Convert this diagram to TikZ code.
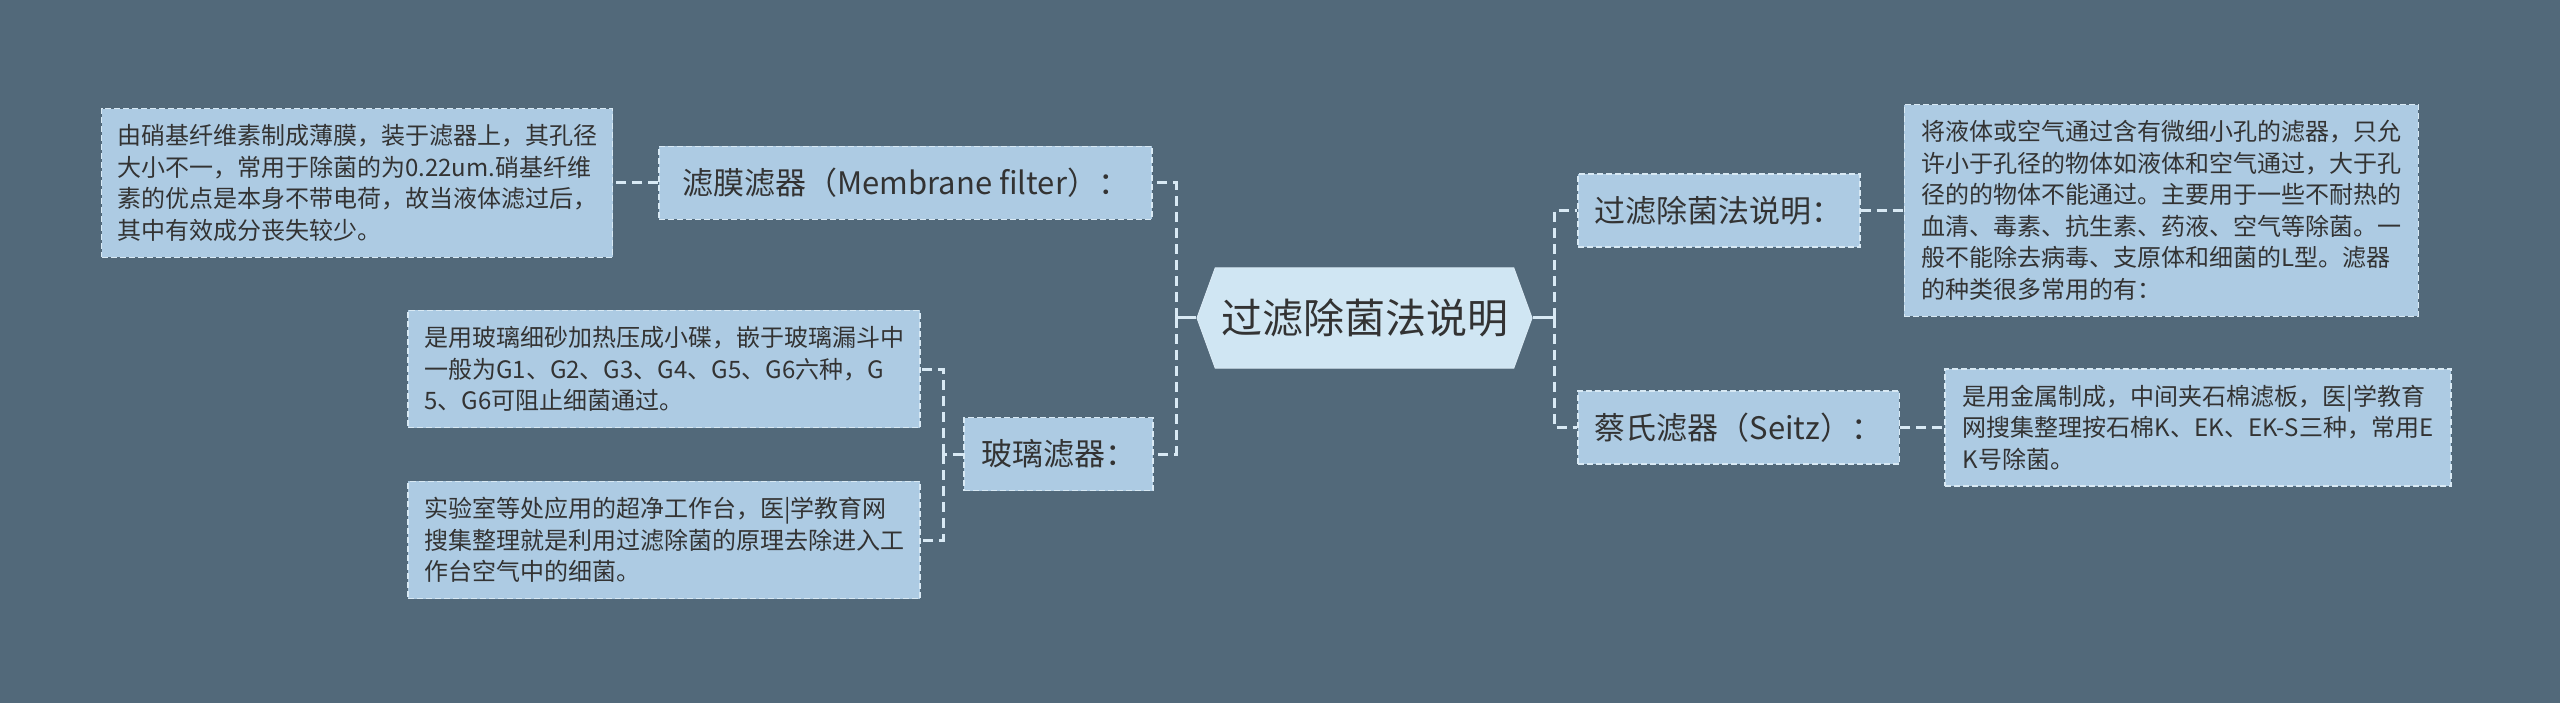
\documentclass[tikz,border=0pt]{standalone}
\usepackage{fontspec}
\setmainfont{Noto Sans CJK SC}
\usepackage{xcolor}
\usepackage{tikz}
\usetikzlibrary{positioning,shapes.symbols}
\definecolor{mapbg}{HTML}{52697A}
\definecolor{mapink}{HTML}{333333}
\definecolor{mapline}{HTML}{D8E9F4}
\definecolor{mapleaf}{HTML}{ADCBE3}
\definecolor{maproot}{HTML}{D0E6F3}

\begin{document}
\begin{tikzpicture}[
  x=1pt,y=-1pt,
  root/.style={shape=signal,signal to=east and west,signal pointer angle=140,
               fill=maproot,draw=mapline,line width=1pt,text=mapink,
               minimum width=335pt,minimum height=100pt,inner sep=0pt,
               font=\fontsize{41}{48}\selectfont},
  topic/.style={fill=mapleaf,draw=mapline,line width=1.6pt,dash pattern=on 6pt off 3pt,
                text=mapink,inner xsep=17pt,minimum height=73pt,
                font=\fontsize{31}{36}\selectfont},
  leaf/.style={fill=mapleaf,draw=mapline,line width=1.6pt,dash pattern=on 6pt off 3pt,
               text=mapink,align=left,inner xsep=13pt,inner ysep=16pt,
               font=\fontsize{24}{31.5}\selectfont},
  link/.style={mapline,line width=3pt},
  dlink/.style={mapline,line width=3pt,dash pattern=on 10pt off 6pt}
]
\fill[mapbg] (0,0) rectangle (2560,703);
\useasboundingbox (0,0) rectangle (2560,703);

% root
\node[root] (main) at (1364.5,318) {过滤除菌法说明};

% left branches
\node[topic,anchor=east,minimum width=493pt] (membrane) at (1153,183)
  {滤膜滤器（Membrane filter）：};
\node[leaf,left=45pt of membrane,minimum width=511pt] (membranetxt)
  {由硝基纤维素制成薄膜，装于滤器上，其孔径\\
   大小不一，常用于除菌的为0.22um.硝基纤维\\
   素的优点是本身不带电荷，故当液体滤过后，\\
   其中有效成分丧失较少。};
\node[topic,anchor=east] (glass) at (1154,454) {玻璃滤器：};
\node[leaf,anchor=east,minimum width=512pt] (glassa) at (921,369)
  {是用玻璃细砂加热压成小碟，嵌于玻璃漏斗中\\
   一般为G1、G2、G3、G4、G5、G6六种，G\\
   5、G6可阻止细菌通过。};
\node[leaf,anchor=east,minimum width=512pt] (glassb) at (921,540)
  {实验室等处应用的超净工作台，医|学教育网\\
   搜集整理就是利用过滤除菌的原理去除进入工\\
   作台空气中的细菌。};

% right branches
\node[topic,anchor=west] (method) at (1577,210.5) {过滤除菌法说明：};
\node[leaf,right=43pt of method,minimum width=514pt] (methodtxt)
  {将液体或空气通过含有微细小孔的滤器，只允\\
   许小于孔径的物体如液体和空气通过，大于孔\\
   径的的物体不能通过。主要用于一些不耐热的\\
   血清、毒素、抗生素、药液、空气等除菌。一\\
   般不能除去病毒、支原体和细菌的L型。滤器\\
   的种类很多常用的有：};
\node[topic,anchor=west] (seitz) at (1577,427.5) {蔡氏滤器（Seitz）：};
\node[leaf,right=44pt of seitz,minimum width=506pt] (seitztxt)
  {是用金属制成，中间夹石棉滤板，医|学教育\\
   网搜集整理按石棉K、EK、EK-S三种，常用E\\
   K号除菌。};

% connectors
\coordinate (lj) at (1176,318);
\coordinate (rj) at (1554,318);
\coordinate (gj) at (943,454);
\draw[link] (main.west) -- (lj);
\draw[link] (main.east) -- (rj);
\draw[dlink] (lj) |- (membrane.east);
\draw[dlink] (lj) |- (glass.east);
\draw[dlink] (rj) |- (method.west);
\draw[dlink] (rj) |- (seitz.west);
\draw[dlink] (membrane.west) -- (membranetxt.east);
\draw[dlink] (glass.west) -- (gj);
\draw[dlink] (gj) |- (glassa.east);
\draw[dlink] (gj) |- (glassb.east);
\draw[dlink] (method.east) -- (methodtxt.west);
\draw[dlink] (seitz.east) -- (seitztxt.west);
\end{tikzpicture}
\end{document}
